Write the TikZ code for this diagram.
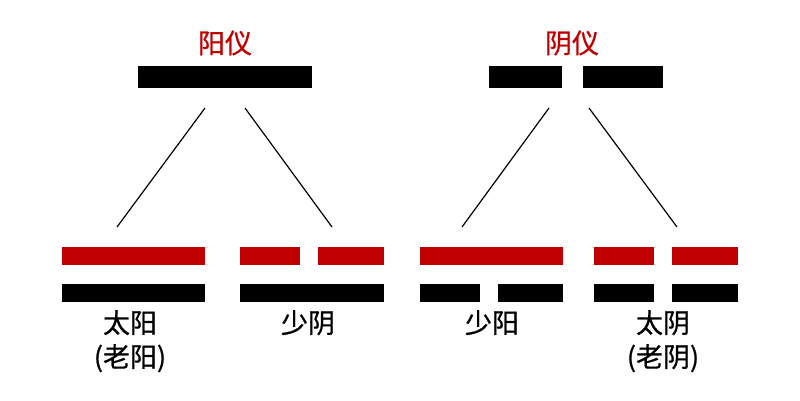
\documentclass[tikz,border=0pt]{standalone}
\usepackage{fontspec}
\setmainfont{Noto Sans CJK SC}[FakeBold=0.8]
\usepackage{tikz}
\usetikzlibrary{positioning}
\definecolor{yangred}{RGB}{192,0,0}

\begin{document}
\begin{tikzpicture}[x=1pt, y=-1pt,
      bar/.style ={rectangle, fill=black, inner sep=0pt, outer sep=0pt, minimum height=18pt},
      topbar/.style ={bar, minimum height=22pt},
      redbar/.style ={bar, fill=yangred},
      yititle/.style ={text=yangred, inner sep=0pt, font=\fontsize{27}{34}\selectfont},
      xiangname/.style ={align=center, inner sep=0pt, font=\fontsize{27}{34}\selectfont},
      node distance=8pt
    ]
    \useasboundingbox (0,0) rectangle (800,400) ;

    % two symbols
    \node [topbar, minimum width=174pt] (yangyi) at (225,77) {} ;
    \node [topbar, minimum width=73pt] (yinyiL) at (525.5,77) {} ;
    \node [topbar, minimum width=80pt] (yinyiR) at (623,77) {} ;
    \node [yititle] (yangTitle) at (225,43) {阳仪} ;
    \node [yititle] (yinTitle) at (572,43) {阴仪} ;

    % four images: upper line red, lower line black
    \node [redbar, minimum width=143pt] (taiyangUp) at (133.5,256) {} ;
    \node [bar, minimum width=143pt] (taiyangDown) at (133.5,293) {} ;

    \node [redbar, minimum width=60pt] (shaoyinUpL) at (270,256) {} ;
    \node [redbar, minimum width=66pt] (shaoyinUpR) at (351,256) {} ;
    \node [bar, minimum width=144pt] (shaoyinDown) at (312,293) {} ;

    \node [redbar, minimum width=143pt] (shaoyangUp) at (491.5,256) {} ;
    \node [bar, minimum width=60pt] (shaoyangDownL) at (450,293) {} ;
    \node [bar, minimum width=65pt] (shaoyangDownR) at (530.5,293) {} ;

    \node [redbar, minimum width=60pt] (taiyinUpL) at (624,256) {} ;
    \node [redbar, minimum width=66pt] (taiyinUpR) at (705,256) {} ;
    \node [bar, minimum width=60pt] (taiyinDownL) at (624,293) {} ;
    \node [bar, minimum width=66pt] (taiyinDownR) at (705,293) {} ;

    \node [xiangname, anchor=north] (taiyang) at (130,310) {太阳\\(老阳)} ;
    \node [xiangname, anchor=north] (shaoyin) at (308,310) {少阴} ;
    \node [xiangname, anchor=north] (shaoyang) at (492,310) {少阳} ;
    \node [xiangname, anchor=north] (taiyin) at (663,310) {太阴\\(老阴)} ;

    % branch ends
    \coordinate (yangA) at (205,108) ;
    \coordinate (yangB) at (245,108) ;
    \coordinate (yinA) at (549,108) ;
    \coordinate (yinB) at (589,108) ;
    \coordinate (taiyangTop) at (117,227) ;
    \coordinate (shaoyinTop) at (332,227) ;
    \coordinate (shaoyangTop) at (462,227) ;
    \coordinate (taiyinTop) at (677,227) ;

    \draw [line width=1.2pt] (yangA) -- (taiyangTop) ;
    \draw [line width=1.2pt] (yangB) -- (shaoyinTop) ;
    \draw [line width=1.2pt] (yinA) -- (shaoyangTop) ;
    \draw [line width=1.2pt] (yinB) -- (taiyinTop) ;
  \end{tikzpicture}
\end{document}
